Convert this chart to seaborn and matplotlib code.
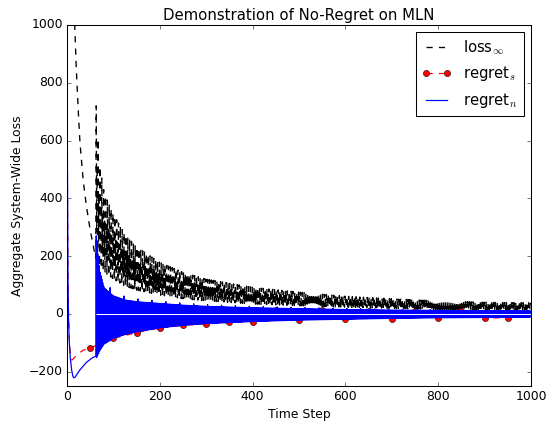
import numpy as np
import pandas as pd
import matplotlib
matplotlib.use("Agg")
import matplotlib.pyplot as plt
import seaborn as sns

# ---------------- data ----------------
jump_t = 63          # step where the oscillating regime begins
last_t = 999

# loss_inf before the jump
pre_loss_t = [1, 5, 10, 15, 17, 20, 25, 28, 35, 42, 50, 57, 60, 62]
pre_loss_v = [16000, 3300, 1700, 1150, 983, 850, 680, 592, 460, 371, 290, 233, 205, 192]

# regret_n before the jump
pre_n_t = [0, 1, 2, 3, 5, 7, 10, 13, 15, 18, 22, 28, 42, 55, 62]
pre_n_v = [1050, 500, 150, 0, -100, -150, -195, -218, -222, -218, -208, -194, -168, -152, -147]

# regret_s (red, markers every 50 steps)
reg_s_t = [0, 1, 2, 3, 5, 7, 9, 11, 14, 21, 35, 50, 100, 150, 200, 250, 300, 350, 400,
           450, 500, 550, 600, 650, 700, 750, 800, 850, 900, 950]
reg_s_v = [1000, 450, 150, 20, -90, -135, -155, -160, -155, -142, -126, -118, -85, -65, -49,
           -40, -35, -30, -27, 14, -23, 14, -19, 10, -17, 10, -14, 8, -14, -14]

# envelopes of the oscillating regime, read at these steps
env_t = [63, 70, 80, 100, 125, 150, 200, 250, 300, 400, 500, 600, 700, 800, 900, 1000]
loss_hi = [720, 520, 420, 345, 275, 232, 178, 144, 120, 92, 75, 61, 52, 45, 40, 38]
loss_lo = [186, 165, 145, 120, 96, 82, 65, 52, 45, 34, 28, 23, 19, 15, 13, 12]
n_hi = [270, 150, 90, 62, 48, 42, 36, 30, 26, 21, 18, 15, 13, 12, 11, 10]
n_spike = [270, 160, 110, 80, 60, 52, 44, 37, 32, 26, 22, 19, 16, 14, 13, 12]
n_lo = [-155, -130, -105, -85, -72, -63, -49, -40, -34, -27, -22, -19, -16, -14, -13, -12]
loss_levels = [1.0, 0.2, 0.65, 0.0]   # repeating level pattern of loss
spike_every = 15

labels = [r"loss$_{\infty}$", r"regret$_s$", r"regret$_n$"]

# ---------------- build series ----------------
t_post = np.arange(jump_t, last_t + 1)
k = t_post - jump_t
lh = np.interp(t_post, env_t, loss_hi)
ll = np.interp(t_post, env_t, loss_lo)
lev = np.array(loss_levels)[k % len(loss_levels)]
loss_post = ll + (lh - ll) * lev

nh = np.interp(t_post, env_t, n_hi)
ns = np.interp(t_post, env_t, n_spike)
nl = np.interp(t_post, env_t, n_lo)
n_post = np.where(k % 2 == 0, np.where(k % spike_every == 0, ns, nh), nl)

loss_df = pd.DataFrame({"t": np.r_[pre_loss_t, t_post], "v": np.r_[pre_loss_v, loss_post]})
n_df = pd.DataFrame({"t": np.r_[pre_n_t, t_post], "v": np.r_[pre_n_v, n_post]})
s_df = pd.DataFrame({"t": reg_s_t, "v": reg_s_v})
mark_idx = [i for i, t in enumerate(reg_s_t) if t >= 50]

# ---------------- plot ----------------
plt.style.use("classic")
plt.rcParams["figure.facecolor"] = "white"
plt.rcParams["savefig.facecolor"] = "white"
plt.rcParams["font.family"] = ["DejaVu Sans"]

DPI = 74.3
fig = plt.figure(figsize=(547 / DPI, 425 / DPI), dpi=DPI)
ax = fig.add_axes([67 / 547, 1 - 386 / 425, (531 - 67) / 547, (386 - 25) / 425])

sns.lineplot(data=loss_df, x="t", y="v", ax=ax, estimator=None, sort=False,
             color="k", linestyle="--", linewidth=1.3, label=labels[0])
sns.lineplot(data=s_df, x="t", y="v", ax=ax, estimator=None, sort=False,
             color="r", linestyle="--", linewidth=1.2, marker="o", markersize=6,
             markevery=mark_idx, markeredgecolor="k", markeredgewidth=0.5,
             label=labels[1])
sns.lineplot(data=n_df, x="t", y="v", ax=ax, estimator=None, sort=False,
             color="b", linewidth=1.2, label=labels[2])
ax.hlines(0, jump_t, 1000, colors="white", linewidth=1.0, zorder=3)

ax.set_xlim(0, 1000)
ax.set_ylim(-250, 1000)
ax.set_xticks([0, 200, 400, 600, 800, 1000])
ax.set_yticks([-200, 0, 200, 400, 600, 800, 1000])
ax.set_xlabel("Time Step")
ax.set_ylabel("Aggregate System-Wide Loss")
ax.set_title("Demonstration of No-Regret on MLN")

handles = [l for l in ax.get_lines() if not l.get_label().startswith("_")]
ax.legend(handles=handles, labels=labels, loc="upper right", numpoints=2,
          fancybox=False, fontsize="large")

fig.savefig("out.png", dpi=DPI)
